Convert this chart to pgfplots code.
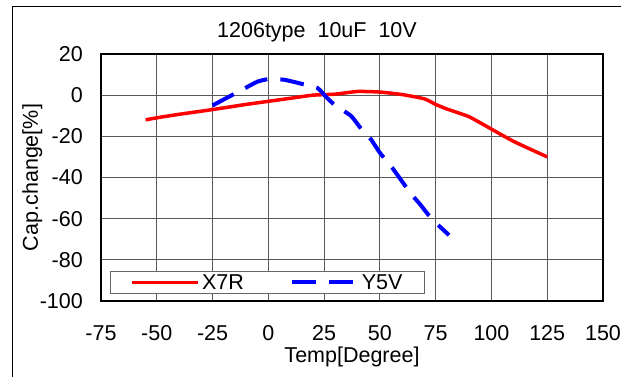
\documentclass[border=0pt]{standalone}
\usepackage{fontspec}
\setmainfont{Liberation Sans}
\usepackage{pgfplots}
\pgfplotsset{compat=1.18}
\definecolor{pred}{RGB}{255,0,0}
\definecolor{pblue}{RGB}{0,0,255}
\begin{document}
\begin{tikzpicture}[x=1pt,y=1pt]
\useasboundingbox (0,0) rectangle (621,377);
\draw[line width=1pt] (12,0) -- (12,370) -- (621,370);
\node[anchor=base,font=\fontsize{21.5}{24}\selectfont] at (317,339) {1206type\ \ 10uF\ \ 10V};
\begin{axis}[
  at={(101pt,76pt)}, anchor=south west,
  scale only axis, width=502pt, height=247pt,
  xmin=-75, xmax=150, ymin=-100, ymax=20,
  xtick={-75,-50,...,150}, ytick={-100,-80,...,20},
  grid=major, major grid style={black!65, line width=0.9pt},
  axis line style={line width=1.5pt},
  major tick length=0pt,
  tick label style={font=\fontsize{21.5}{24}\selectfont, inner sep=0pt},
  /pgf/number format/assume math mode=true,
  xticklabel style={anchor=center, yshift=-32pt},
  yticklabel style={anchor=east, xshift=-18pt},
  xlabel={Temp[Degree]}, ylabel={Cap.change[\%]},
  label style={font=\fontsize{21.5}{24}\selectfont},
  xlabel style={at={(axis description cs:0.5,-0.225)}, anchor=center},
  ylabel style={at={(axis description cs:-0.137,0.5)}, anchor=center},
  legend columns=2,
  legend style={at={(axis description cs:0.018,0.028)}, anchor=south west,
    draw=black!60, line width=1pt, font=\fontsize{21.5}{24}\selectfont,
    inner xsep=20pt, inner ysep=1pt,
    /tikz/every even column/.append style={column sep=44pt}},
  legend image code/.code={\draw[#1] (0pt,0pt) -- (66pt,0pt);},
]
\addplot[pred, line width=3.5pt, smooth, tension=0.3] coordinates {
(-55,-12) (-50,-11) (-40,-9.3) (-25,-7) (-10,-4.5) (0,-3) (10,-1.5) (20,0) (30,0.5)
(40,1.8) (50,1.5) (60,0.3) (70,-1.8) (75,-4.5) (80,-6.7) (90,-10.5) (100,-16.5)
(110,-22.5) (125,-30)};
\addlegendentry{X7R}
\addplot[pblue, line width=4pt, dash pattern=on 24pt off 13pt, smooth, tension=0.3] coordinates {
(-25,-5) (-12,2.5) (-5,6.5) (0,7.8) (7,7.5) (15,5.5) (22,3.5) (26,-1) (30,-5)
(37,-10) (41,-15.5) (46,-21.5) (50,-28) (55,-34.5) (60,-42) (64,-48) (68,-53)
(72,-58.5) (76,-63) (81,-68)};
\addlegendentry{Y5V}
\end{axis}
\end{tikzpicture}
\end{document}
